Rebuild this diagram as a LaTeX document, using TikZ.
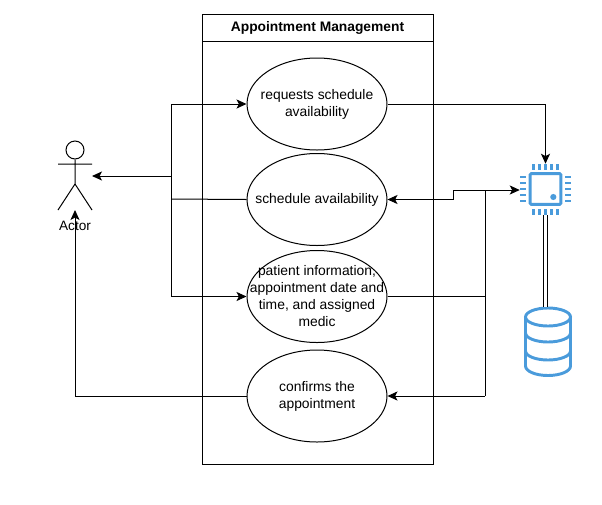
\documentclass[tikz,border=0pt]{standalone}
\usepackage{fontspec}
\setmainfont{Liberation Sans}
\usetikzlibrary{arrows.meta,shapes.geometric}
\definecolor{iconblue}{HTML}{4A9BDB}
\tikzset{
usecase/.style={ellipse, draw, line width=0.75pt, minimum width=105pt, minimum height=69pt, inner xsep=-40pt, inner ysep=-20pt, align=center, font=\fontsize{10.4}{12.75}\selectfont},
conn/.style={draw, line width=0.75pt},
arrowed/.style={conn, -{Stealth[length=7.5pt,width=6.8pt,inset=1.8pt]}},
icon/.style={draw=iconblue, line width=2.2pt},
}
\begin{document}
\begin{tikzpicture}[x=0.75pt,y=-0.75pt]
\useasboundingbox (0,0) rectangle (602,504);
%Pool
\node[draw, line width=0.75pt, minimum width=173.25pt, minimum height=337.5pt, inner sep=0pt](pool) at (317.5,239){};
\node[draw, line width=0.75pt, minimum width=173.25pt, minimum height=20.25pt, inner sep=0pt, font=\bfseries\fontsize{10.35}{12}\selectfont](title) at (317.5,27.5){Appointment Management};
%Use cases
\node[usecase](requests) at (317,104){requests schedule\\availability};
\node[usecase](schedule) at (317,199.5){schedule availability};
\node[usecase](patient) at (317,296.5){patient information,\\appointment date and\\time, and assigned\\medic};
\node[usecase](confirms) at (317,396){confirms the\\appointment};
%Actor
\node[circle, draw, line width=0.75pt, minimum size=13.5pt, inner sep=0pt](head) at (75,150){};
\coordinate (hip) at (75,184);
\coordinate (handl) at (58,164);
\coordinate (handr) at (92,164);
\coordinate (footl) at (58,210);
\coordinate (footr) at (92,210);
\coordinate (foot) at (75,210);
\node[font=\fontsize{10.2}{12}\selectfont, inner sep=0pt](actor) at (75,226){Actor};
\draw[conn] (head.south) -- (hip) (handl) -- (handr) (footl) -- (hip) -- (footr);
\coordinate (chest) at (92,176);
%Chip
\node[draw=none, minimum size=38.25pt, inner sep=0pt](chip) at (545.5,189.5){};
\node[icon, rounded corners=0.8pt, minimum size=23pt, inner sep=0pt](core) at (545.5,189){};
\fill[iconblue] (553.3,197) circle (2.3pt);
\foreach \d in {-12,-6,0,6,12}{
  \draw[icon] (545.5+\d,164) -- (545.5+\d,170);
  \draw[icon] (545.5+\d,209) -- (545.5+\d,215);
  \draw[icon] (520,189+\d) -- (526,189+\d);
  \draw[icon] (565,189+\d) -- (571,189+\d);
}
%Database
\node[minimum width=36pt, minimum height=52.5pt, inner sep=0pt](db) at (548,342){};
\draw[icon, line join=round] (525.5,317) -- (525.5,366) arc[start angle=180, end angle=0, x radius=22.5, y radius=9.5] -- (570.5,317);
\draw[icon] (548,317) ellipse[x radius=22.5, y radius=9];
\draw[icon] (525.5,333) arc[start angle=180, end angle=0, x radius=22.5, y radius=9];
\draw[icon] (525.5,351) arc[start angle=180, end angle=0, x radius=22.5, y radius=9];
%Connectors
\coordinate (busl) at (171,199);
\coordinate (busr) at (485,190);
\draw[conn] (schedule.west) -- (busl);
\draw[arrowed] (busl) |- (requests.west);
\draw[arrowed] (busl) |- (patient.west);
\draw[arrowed] (171,176) -- (chest);
\draw[arrowed] (confirms.west) -| (foot);
\draw[arrowed] (requests.east) -| (chip.north);
\draw[arrowed] (453,199.5) -- (schedule.east);
\draw[arrowed] (453,199.5) -- (453,190) -- (chip.west |- busr);
\draw[conn] (patient.east) -| (busr);
\draw[arrowed] (busr |- confirms) -- (confirms.east);
\draw[conn] (busr) -- (busr |- confirms);
\draw[conn, double, double distance=2.25pt] (chip.south) -- (chip.south |- db.north);
\end{tikzpicture}
\end{document}
